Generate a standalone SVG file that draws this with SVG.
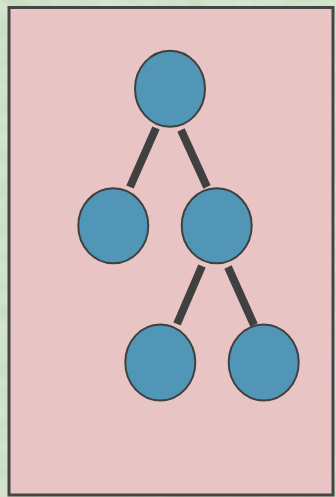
<svg xmlns="http://www.w3.org/2000/svg" width="336" height="497" viewBox="0 0 336 497">
  <defs>
    <style>
      .node { fill: #5195B7; stroke: #404040; stroke-width: 2; }
      .edge { stroke: #404040; stroke-width: 8; stroke-linecap: butt; fill: none; }
      .panel { fill: #E8C4C4; stroke: #454545; stroke-width: 3; }
    </style>
    <!-- soft marbled texture for the backdrop -->
    <filter id="marble" x="0" y="0" width="100%" height="100%">
      <feTurbulence type="fractalNoise" baseFrequency="0.035 0.05" numOctaves="4" seed="7" result="noise"/>
      <feColorMatrix in="noise" type="matrix"
        values="0 0 0 0 0.70
                0 0 0 0 0.82
                0 0 0 0 0.68
                0 0 0 -1.6 1.1" result="tint"/>
      <feComposite in="tint" in2="SourceGraphic" operator="in"/>
    </filter>
  </defs>

  <!-- backdrop -->
  <rect x="0" y="0" width="336" height="497" fill="#CCDDC5"/>
  <rect x="0" y="0" width="336" height="497" fill="#CCDDC5" filter="url(#marble)"/>

  <!-- panel -->
  <rect class="panel" x="9" y="7.5" width="324" height="487.5"/>

  <!-- connectors -->
  <g id="edges">
    <line class="edge" x1="156" y1="128" x2="130" y2="187"/>
    <line class="edge" x1="181" y1="130" x2="207" y2="187"/>
    <line class="edge" x1="202" y1="266" x2="177" y2="324"/>
    <line class="edge" x1="228" y1="267" x2="254" y2="325"/>
  </g>

  <!-- nodes -->
  <g id="node-root"><ellipse class="node" cx="170" cy="88.7" rx="35" ry="38"/></g>
  <g id="node-left"><ellipse class="node" cx="113.3" cy="225.8" rx="35" ry="37.5"/></g>
  <g id="node-right"><ellipse class="node" cx="216.7" cy="225.8" rx="35" ry="37.5"/></g>
  <g id="node-right-left"><ellipse class="node" cx="160.3" cy="362.5" rx="35" ry="38"/></g>
  <g id="node-right-right"><ellipse class="node" cx="263.7" cy="362.5" rx="35" ry="38"/></g>
</svg>
